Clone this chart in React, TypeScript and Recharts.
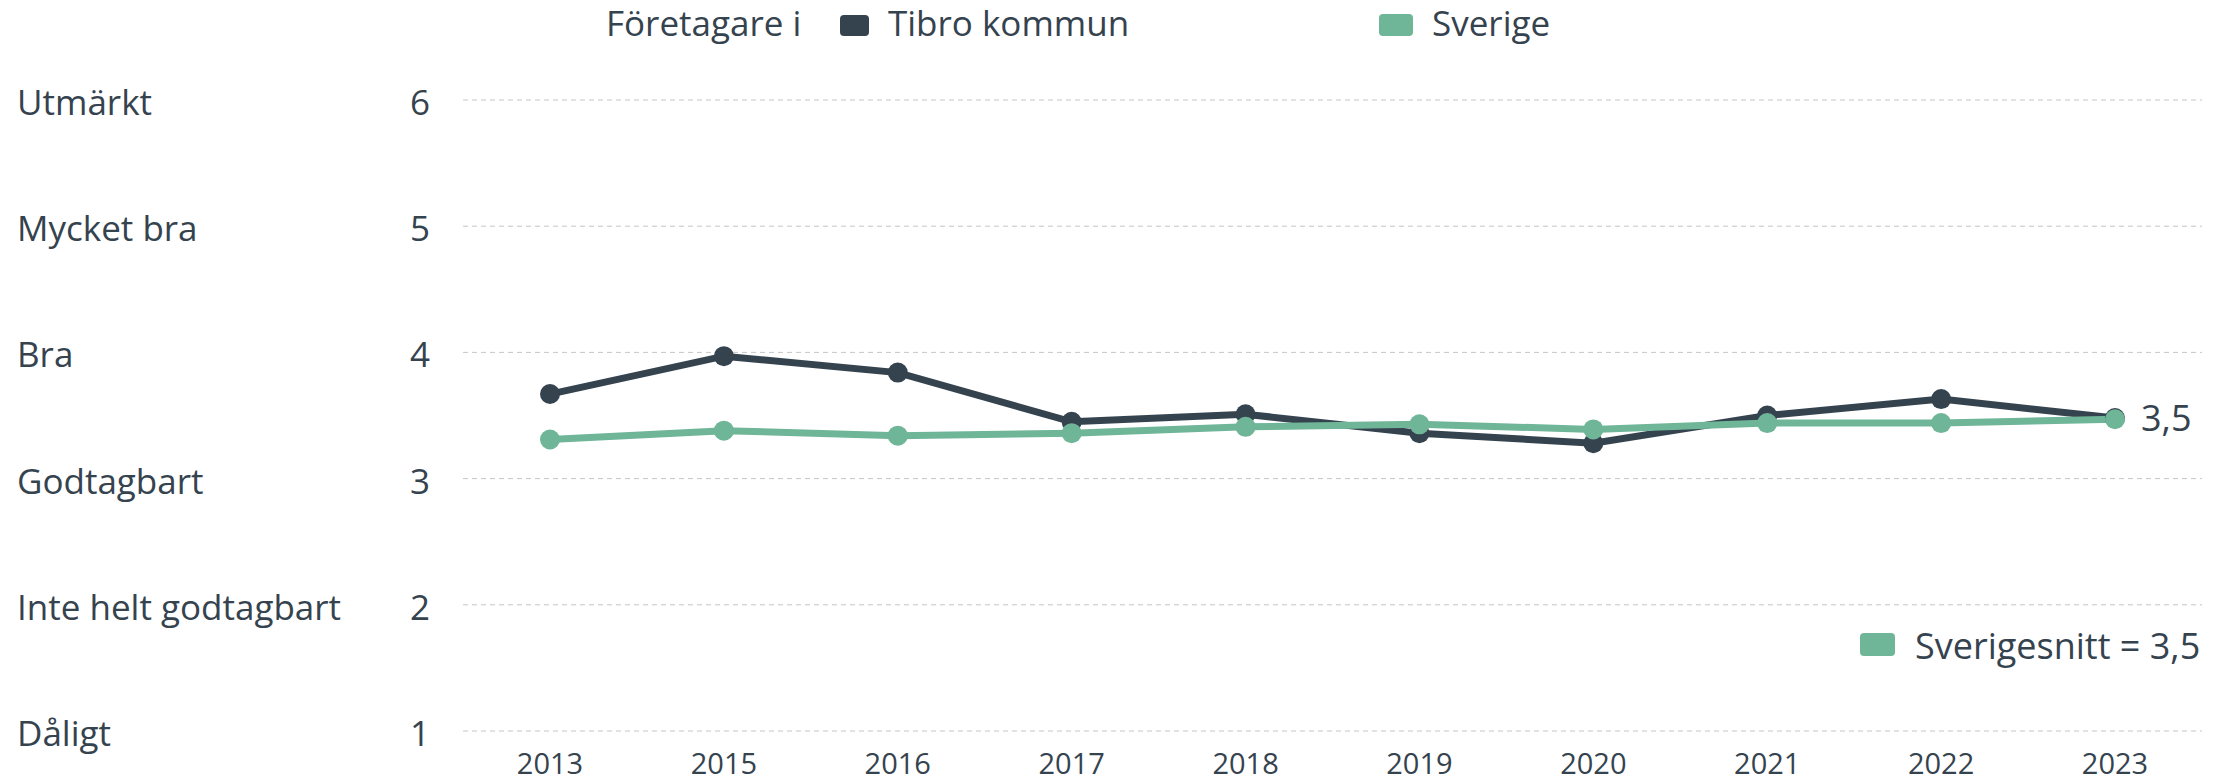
import React from 'react';
import { LineChart, Line, XAxis, YAxis, CartesianGrid, LabelList } from 'recharts';

// Företagarnas betyg per år
const years = ['2013', '2015', '2016', '2017', '2018', '2019', '2020', '2021', '2022', '2023'];
const tibroValues = [3.67, 3.97, 3.84, 3.45, 3.51, 3.36, 3.28, 3.5, 3.63, 3.48];
const sverigeValues = [3.31, 3.38, 3.34, 3.36, 3.41, 3.43, 3.39, 3.44, 3.44, 3.47];

const yTicks = [1, 2, 3, 4, 5, 6];
const yLabels = ['Dåligt', 'Inte helt godtagbart', 'Godtagbart', 'Bra', 'Mycket bra', 'Utmärkt'];

const lastLabel = '3,5';
const averageLabel = 'Sverigesnitt = 3,5';

const DARK = '#35434f';
const GREEN = '#6fb598';
const FONT = '"Open Sans", sans-serif';

const W = 2232;
const H = 783;

const data = years.map((year, i) => ({
  year,
  tibro: tibroValues[i],
  sverige: sverigeValues[i],
}));

const YTick = (props: any) => {
  const { y, payload } = props;
  const idx = yTicks.indexOf(payload.value);
  return (
    <g fontFamily={FONT} fontSize={35} fill={DARK}>
      <text x={17} y={y + 15} fill={DARK}>{yLabels[idx]}</text>
      <text x={430} y={y + 15} textAnchor="end" fill={DARK}>{payload.value}</text>
    </g>
  );
};

const XTick = (props: any) => {
  const { x, y, payload } = props;
  return (
    <text x={x} y={y + 43} textAnchor="middle" fontFamily={FONT} fontSize={29} fill={DARK}>
      {payload.value}
    </text>
  );
};

const EndLabel = (props: any) => {
  const { x, y, index } = props;
  if (index !== years.length - 1) return null;
  return (
    <text x={x + 26} y={y + 13} fontFamily={FONT} fontSize={36} fill={DARK}>
      {lastLabel}
    </text>
  );
};

const App: React.FC = () => {
  return (
    <div style={{ position: 'absolute', left: 0, top: 0, width: W, height: H, background: '#fff' }}>
      <LineChart
        width={W}
        height={H}
        data={data}
        margin={{ top: 100, right: 30, left: 0, bottom: 0 }}
      >
        <CartesianGrid vertical={false} stroke="#c6c6c6" strokeDasharray="5 4" />
        <XAxis
          dataKey="year"
          axisLine={false}
          tickLine={false}
          tickSize={0}
          tickMargin={0}
          height={52}
          padding={{ left: 87, right: 87 }}
          tick={<XTick />}
          interval={0}
        />
        <YAxis
          domain={[1, 6]}
          ticks={yTicks}
          axisLine={false}
          tickLine={false}
          width={463}
          tick={<YTick />}
          interval={0}
        />
        <Line
          dataKey="tibro"
          stroke={DARK}
          strokeWidth={7}
          dot={{ r: 10, fill: DARK, stroke: 'none' }}
          isAnimationActive={false}
        >
          <LabelList dataKey="tibro" content={<EndLabel />} />
        </Line>
        <Line
          dataKey="sverige"
          stroke={GREEN}
          strokeWidth={7}
          dot={{ r: 10, fill: GREEN, stroke: 'none' }}
          isAnimationActive={false}
        />
      </LineChart>

      {/* legender */}
      <svg
        width={W}
        height={H}
        style={{ position: 'absolute', left: 0, top: 0, pointerEvents: 'none' }}
        fontFamily={FONT}
        fill={DARK}
      >
        <text x={606} y={36} fontSize={35}>Företagare i</text>
        <rect x={840} y={15} width={29} height={21} rx={4} fill={DARK} />
        <text x={888} y={36} fontSize={35}>Tibro kommun</text>
        <rect x={1379} y={14} width={34} height={22} rx={4} fill={GREEN} />
        <text x={1432} y={36} fontSize={35}>Sverige</text>

        <rect x={1860} y={633} width={35} height={23} rx={4} fill={GREEN} />
        <text x={1915} y={659} fontSize={36}>{averageLabel}</text>
      </svg>
    </div>
  );
};

export default App;
